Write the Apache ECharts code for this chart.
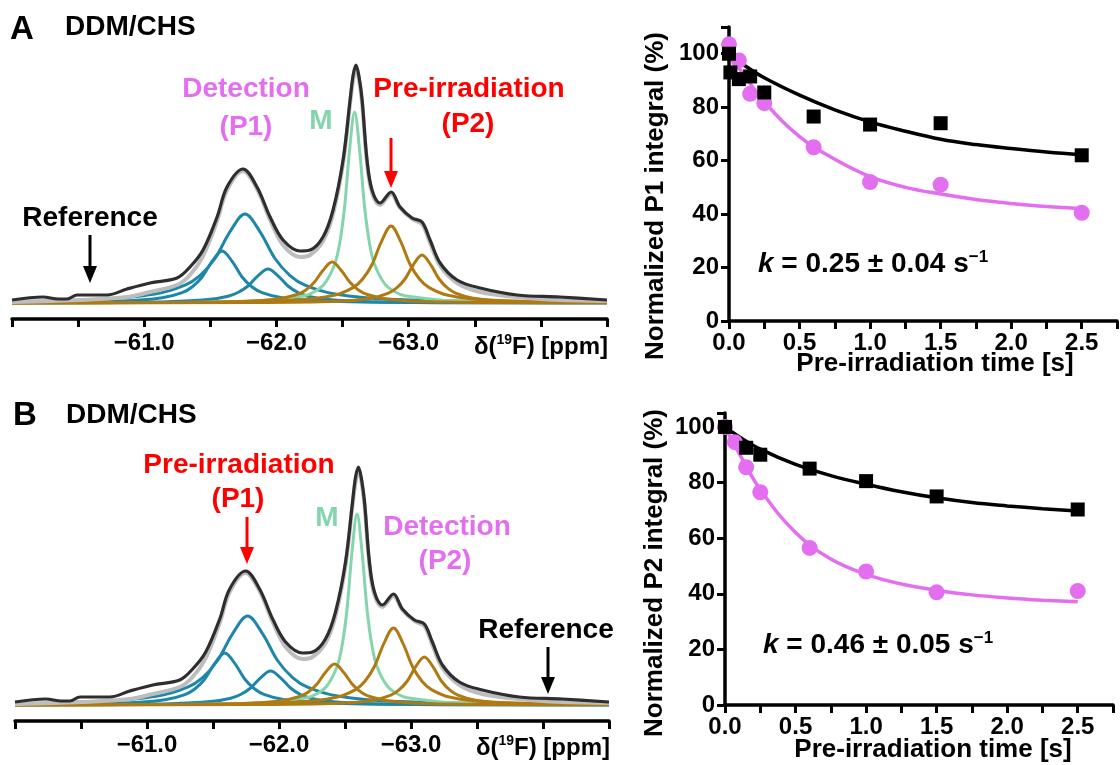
<!DOCTYPE html>
<html><head><meta charset="utf-8">
<script src="https://cdn.jsdelivr.net/npm/echarts@6/dist/echarts.min.js"></script>
<style>html,body{margin:0;padding:0;background:#fff}#c{width:1120px;height:765px}</style>
</head><body><div id="c"></div>
<script>
// ===== Spectrum (19F NMR), x in ppm, y = intensity (arb. units) =====
const specBlack = [[-60.000,3],[-60.234,6],[-60.350,4],[-60.416,4],[-60.492,8],[-60.719,8],[-60.870,14],[-61.044,20],[-61.248,25],[-61.346,36],[-61.445,53],[-61.551,86],[-61.626,116],[-61.747,134],[-61.853,116],[-61.952,86],[-62.050,63],[-62.178,52],[-62.254,53],[-62.352,66],[-62.428,93],[-62.504,143],[-62.557,203],[-62.580,228],[-62.602,238],[-62.625,226],[-62.648,203],[-62.685,143],[-62.723,113],[-62.784,100],[-62.867,111],[-62.935,96],[-63.026,85],[-63.101,81],[-63.162,63],[-63.238,40],[-63.366,23],[-63.540,15],[-63.820,8],[-64.145,6],[-64.500,3]];
const specFitSum = [[-60.0,1],[-60.5,3],[-60.87,6],[-61.044,11],[-61.248,18],[-61.346,28],[-61.445,47],[-61.551,82],[-61.626,113],[-61.747,132],[-61.853,114],[-61.952,83],[-62.05,58],[-62.178,46],[-62.254,48],[-62.352,62],[-62.428,89],[-62.504,140],[-62.557,200],[-62.58,223],[-62.602,235],[-62.625,223],[-62.648,200],[-62.685,140],[-62.723,110],[-62.784,98],[-62.867,109],[-62.935,95],[-63.026,84],[-63.101,79],[-63.162,60],[-63.238,37],[-63.366,20],[-63.54,11],[-63.82,6],[-64.145,3],[-64.5,2]];
const compBlueLeft = [[-60.0,0.5],[-60.834,2.0],[-61.136,5.2],[-61.287,10.4],[-61.362,16],[-61.438,26],[-61.513,41.6],[-61.589,52],[-61.665,41.6],[-61.740,26],[-61.816,16],[-61.891,10.4],[-62.042,5.2],[-62.344,2.0],[-63.099,0.5],[-64.5,0.1]];
const compBlueMain = [[-60.0,1.5],[-60.627,3.4],[-61.081,8.9],[-61.308,17.8],[-61.421,27.4],[-61.535,44.5],[-61.648,71.2],[-61.762,89],[-61.876,71.2],[-61.989,44.5],[-62.103,27.4],[-62.216,17.8],[-62.443,8.9],[-62.897,3.4],[-64.032,0.9],[-64.5,0.6]];
const compBlueRight = [[-60.0,0.2],[-60.426,0.3],[-61.181,1.3],[-61.483,3.4],[-61.634,6.8],[-61.709,10.5],[-61.785,17],[-61.860,27.2],[-61.936,34],[-62.012,27.2],[-62.087,17],[-62.163,10.5],[-62.238,6.8],[-62.389,3.4],[-62.691,1.3],[-63.446,0.3],[-64.5,0.2]];
const compM = [[-60.0,0.2],[-61.0,0.4],[-61.831,1.9],[-62.211,7.3],[-62.287,11.2],[-62.363,19.1],[-62.439,38.2],[-62.477,58.8],[-62.515,95.5],[-62.553,152.8],[-62.591,191],[-62.629,152.8],[-62.667,95.5],[-62.705,58.8],[-62.743,38.2],[-62.819,19.1],[-62.895,11.2],[-62.971,7.3],[-63.351,1.9],[-64.0,0.6],[-64.5,0.3]];
const compBrown1 = [[-60.0,0.1],[-61.061,0.4],[-61.741,1.6],[-62.013,4.1],[-62.149,8.2],[-62.217,12.6],[-62.285,20.5],[-62.353,32.8],[-62.421,41],[-62.489,32.8],[-62.557,20.5],[-62.625,12.6],[-62.693,8.2],[-62.829,4.1],[-63.101,1.6],[-63.781,0.4],[-64.5,0.2]];
const compBrown2 = [[-60.0,0.2],[-61.427,0.8],[-62.147,3.0],[-62.435,7.7],[-62.579,15.4],[-62.651,23.7],[-62.723,38.5],[-62.795,61.6],[-62.867,77],[-62.939,61.6],[-63.011,38.5],[-63.083,23.7],[-63.155,15.4],[-63.299,7.7],[-63.587,3.0],[-64.307,0.8],[-64.5,0.6]];
const compBrown3 = [[-60.0,0.1],[-61.811,0.5],[-62.456,1.8],[-62.714,4.8],[-62.843,9.6],[-62.907,14.8],[-62.972,24],[-63.036,38.4],[-63.101,48],[-63.166,38.4],[-63.230,24],[-63.295,14.8],[-63.359,9.6],[-63.488,4.8],[-63.746,1.8],[-64.391,0.5],[-64.5,0.4]];
const ppmLabels = [-61, -62, -63];

// ===== Kinetics panels =====
const timeA_pink = [0, 0.07, 0.15, 0.25, 0.6, 1.0, 1.5, 2.5];
const valA_pink  = [103.5, 97.5, 85, 81.5, 65, 52, 51, 40.5];
const timeA_black = [0, 0.01, 0.07, 0.15, 0.25, 0.6, 1.0, 1.5, 2.5];
const valA_black  = [100, 93, 90.5, 91.5, 85.5, 76.5, 73.5, 74, 62];
const timeB_pink = [0, 0.07, 0.15, 0.25, 0.6, 1.0, 1.5, 2.5];
const valB_pink  = [100, 94.5, 85.5, 76.5, 56.5, 48, 40.5, 41];
const timeB_black = [0, 0.15, 0.25, 0.6, 1.0, 1.5, 2.5];
const valB_black  = [100, 92.5, 90, 85, 80.5, 75, 70.3];
const fitT = [0, 0.1, 0.25, 0.5, 0.75, 1.0, 1.25, 1.5, 1.75, 2.0, 2.25, 2.5];
const fitA_black = [100, 96, 91, 84.5, 79, 74.5, 71, 68, 66, 64.5, 63.2, 62.2];
const fitA_pink  = [100, 92.5, 82, 69, 60.5, 54, 50, 47.5, 45.5, 44, 42.8, 42];
const fitB_black = [100, 96.5, 92, 86.5, 82.5, 79.4, 76.7, 74.5, 72.8, 71.6, 70.6, 69.8];
const fitB_pink  = [100, 90.5, 77.5, 62, 52.5, 47, 43.5, 41.3, 39.6, 38.5, 37.7, 37.1];
const yTicks = [0, 20, 40, 60, 80, 100];
const xTicks = [0, 0.5, 1.0, 1.5, 2.0, 2.5];

// ===== styles =====
const FONT = '"Liberation Sans", Arial, sans-serif';
const BLUE = '#1c87a9', GREEN = '#84d5ac', BROWN = '#b07a13', GRAY = '#bdbdbd', BLACK = '#2e2e2e';
const PINK = '#e46ef0', RED = '#ff0000';

const zip = (a, b) => a.map((v, i) => [v, b[i]]);

function specX(gi) {
  return {
    type: 'value', gridIndex: gi, min: -64.5, max: -60, interval: 0.5, inverse: true,
    axisLine: { onZero: false, lineStyle: { color: '#000', width: 3.5 } },
    axisTick: { length: 8, lineStyle: { color: '#000', width: 3 } },
    axisLabel: {
      margin: 12, color: '#000', fontSize: 24, fontWeight: 'bold', fontFamily: FONT,
      formatter: v => ppmLabels.some(p => Math.abs(p - v) < 1e-6) ? '\u2212' + Math.abs(v).toFixed(1) : ''
    },
    splitLine: { show: false }
  };
}
function specY(gi) {
  return { type: 'value', gridIndex: gi, min: -16, max: 250, show: false, splitLine: { show: false } };
}
function kinX(gi) {
  return {
    type: 'value', gridIndex: gi, min: 0, max: 2.75, interval: 0.25,
    axisLine: { onZero: false, lineStyle: { color: '#000', width: 3.5 } },
    axisTick: { length: 8, lineStyle: { color: '#000', width: 3 } },
    axisLabel: {
      margin: 10, color: '#000', fontSize: 24, fontWeight: 'bold', fontFamily: FONT,
      formatter: v => xTicks.some(p => Math.abs(p - v) < 1e-6) ? v.toFixed(1) : ''
    },
    splitLine: { show: false }
  };
}
function kinY(gi, max) {
  return {
    type: 'value', gridIndex: gi, min: 0, max: max, interval: 20,
    axisLine: { show: true, onZero: false, lineStyle: { color: '#000', width: 3.5 } },
    axisTick: { show: true, length: 8, lineStyle: { color: '#000', width: 3 } },
    axisLabel: {
      margin: 10, color: '#000', fontSize: 24, fontWeight: 'bold', fontFamily: FONT,
      formatter: v => yTicks.indexOf(v) >= 0 ? String(v) : ''
    },
    splitLine: { show: false }
  };
}
function specSeries(i) {
  const mk = (data, color, w, z) => ({
    type: 'line', xAxisIndex: i, yAxisIndex: i, data: data, showSymbol: false, symbol: 'none',
    smooth: 0.35, lineStyle: { color: color, width: w }, z: z, silent: true
  });
  return [
    mk(compBlueLeft, BLUE, 3, 2), mk(compBlueMain, BLUE, 3, 2), mk(compBlueRight, BLUE, 3, 2),
    mk(compM, GREEN, 3, 3),
    mk(compBrown1, BROWN, 3, 4), mk(compBrown2, BROWN, 3, 4), mk(compBrown3, BROWN, 3, 4),
    mk(specFitSum, GRAY, 4, 5), mk(specBlack, BLACK, 3.2, 6)
  ];
}
function kinSeries(i, fitBlack, fitPink, tp, vp, tb, vb) {
  return [
    { type: 'line', xAxisIndex: i, yAxisIndex: i, data: zip(fitT, fitPink), showSymbol: false, symbol: 'none', smooth: 0.4, lineStyle: { color: PINK, width: 3.5 }, z: 2 },
    { type: 'line', xAxisIndex: i, yAxisIndex: i, data: zip(fitT, fitBlack), showSymbol: false, symbol: 'none', smooth: 0.4, lineStyle: { color: '#000', width: 3.5 }, z: 2 },
    { type: 'scatter', xAxisIndex: i, yAxisIndex: i, data: zip(tp, vp), symbol: 'circle', symbolSize: 16, itemStyle: { color: PINK, opacity: 1 }, z: 3 },
    { type: 'scatter', xAxisIndex: i, yAxisIndex: i, data: zip(tb, vb), symbol: 'rect', symbolSize: 14, itemStyle: { color: '#000', opacity: 1 }, z: 4 }
  ];
}

function txt(text, x, y, size, color, align, extra) {
  return Object.assign({
    type: 'text', x: x, y: y, z: 100,
    style: { text: text, fill: color, fontSize: size, fontWeight: 'bold', fontFamily: FONT, align: align || 'center', verticalAlign: 'middle' }
  }, extra || {});
}
function arrow(x, y1, y2, color) {
  return {
    type: 'group', z: 100, children: [
      { type: 'line', shape: { x1: x, y1: y1, x2: x, y2: y2 - 12 }, style: { stroke: color, lineWidth: 3 } },
      { type: 'polygon', shape: { points: [[x - 7, y2 - 17], [x + 7, y2 - 17], [x, y2]] }, style: { fill: color } }
    ]
  };
}
function ppmTitle(xr, y) {
  return {
    type: 'text', x: xr, y: y, z: 100,
    style: {
      text: '\u03b4({s|19}F) [ppm]', fill: '#000', fontSize: 24, fontWeight: 'bold', fontFamily: FONT,
      lineHeight: 28, align: 'right', verticalAlign: 'middle',
      rich: { s: { fontSize: 14, fontWeight: 'bold', fontFamily: FONT, verticalAlign: 'top', lineHeight: 16, fill: '#000' } }
    }
  };
}
function kText(str, x, y) {
  return {
    type: 'text', x: x, y: y, z: 100,
    style: {
      text: '{i|k}{n| = ' + str + ' s}{s|\u22121}', fill: '#000', fontFamily: FONT,
      align: 'left', verticalAlign: 'middle',
      rich: {
        i: { fontSize: 28, fontWeight: 'bold', fontStyle: 'italic', fontFamily: FONT, lineHeight: 30 },
        n: { fontSize: 28, fontWeight: 'bold', fontFamily: FONT, lineHeight: 30 },
        s: { fontSize: 17, fontWeight: 'bold', fontFamily: FONT, lineHeight: 17, verticalAlign: 'top' }
      }
    }
  };
}
function vTitle(text, x, y) {
  return {
    type: 'text', x: x, y: y, rotation: Math.PI / 2, z: 100,
    style: { text: text, fill: '#000', fontSize: 26, fontWeight: 'bold', fontFamily: FONT, align: 'center', verticalAlign: 'middle' }
  };
}

const chart = echarts.init(document.getElementById('c'), null, { renderer: 'canvas' });
chart.setOption({
  animation: false,
  backgroundColor: '#fff',
  textStyle: { fontFamily: FONT },
  grid: [
    { left: 12, right: 513, top: 53, bottom: 446 },
    { left: 15, right: 511, top: 455, bottom: 44 },
    { left: 729, right: 2, top: 27, bottom: 444 },
    { left: 725, right: 7, top: 413, bottom: 60 }
  ],
  xAxis: [specX(0), specX(1), kinX(2), kinX(3)],
  yAxis: [specY(0), specY(1), kinY(2, 110), kinY(3, 105)],
  series: [].concat(
    specSeries(0), specSeries(1),
    kinSeries(2, fitA_black, fitA_pink, timeA_pink, valA_pink, timeA_black, valA_black),
    kinSeries(3, fitB_black, fitB_pink, timeB_pink, valB_pink, timeB_black, valB_black)
  ),
  graphic: [
    // Panel A
    txt('A', 10, 30, 33, '#000', 'left'),
    txt('DDM/CHS', 65, 27, 28, '#000', 'left'),
    txt('Detection', 246, 89, 28, PINK),
    txt('(P1)', 246, 127, 28, PINK),
    txt('M', 321, 121, 28, GREEN),
    txt('Pre-irradiation', 469, 89, 28, RED),
    txt('(P2)', 468, 124, 28, RED),
    arrow(391, 138, 188, RED),
    txt('Reference', 90, 218, 28, '#000'),
    arrow(90, 235, 283, '#000'),
    ppmTitle(608, 347),
    vTitle('Normalized P1 integral (%)', 656, 196),
    txt('Pre-irradiation time [s]', 935, 364, 26, '#000'),
    kText('0.25 \u00b1 0.04', 758, 264),
    // Panel B
    txt('B', 13, 416, 33, '#000', 'left'),
    txt('DDM/CHS', 66, 415, 28, '#000', 'left'),
    txt('Pre-irradiation', 239, 465, 28, RED),
    txt('(P1)', 238, 499, 28, RED),
    arrow(247, 517, 564, RED),
    txt('M', 327, 518, 28, GREEN),
    txt('Detection', 447, 527, 28, PINK),
    txt('(P2)', 445, 561, 28, PINK),
    txt('Reference', 546, 630, 28, '#000'),
    arrow(548, 647, 694, '#000'),
    ppmTitle(610, 748),
    vTitle('Normalized P2 integral (%)', 655, 573),
    txt('Pre-irradiation time [s]', 933, 750, 26, '#000'),
    kText('0.46 \u00b1 0.05', 763, 645)
  ]
});
</script></body></html>
